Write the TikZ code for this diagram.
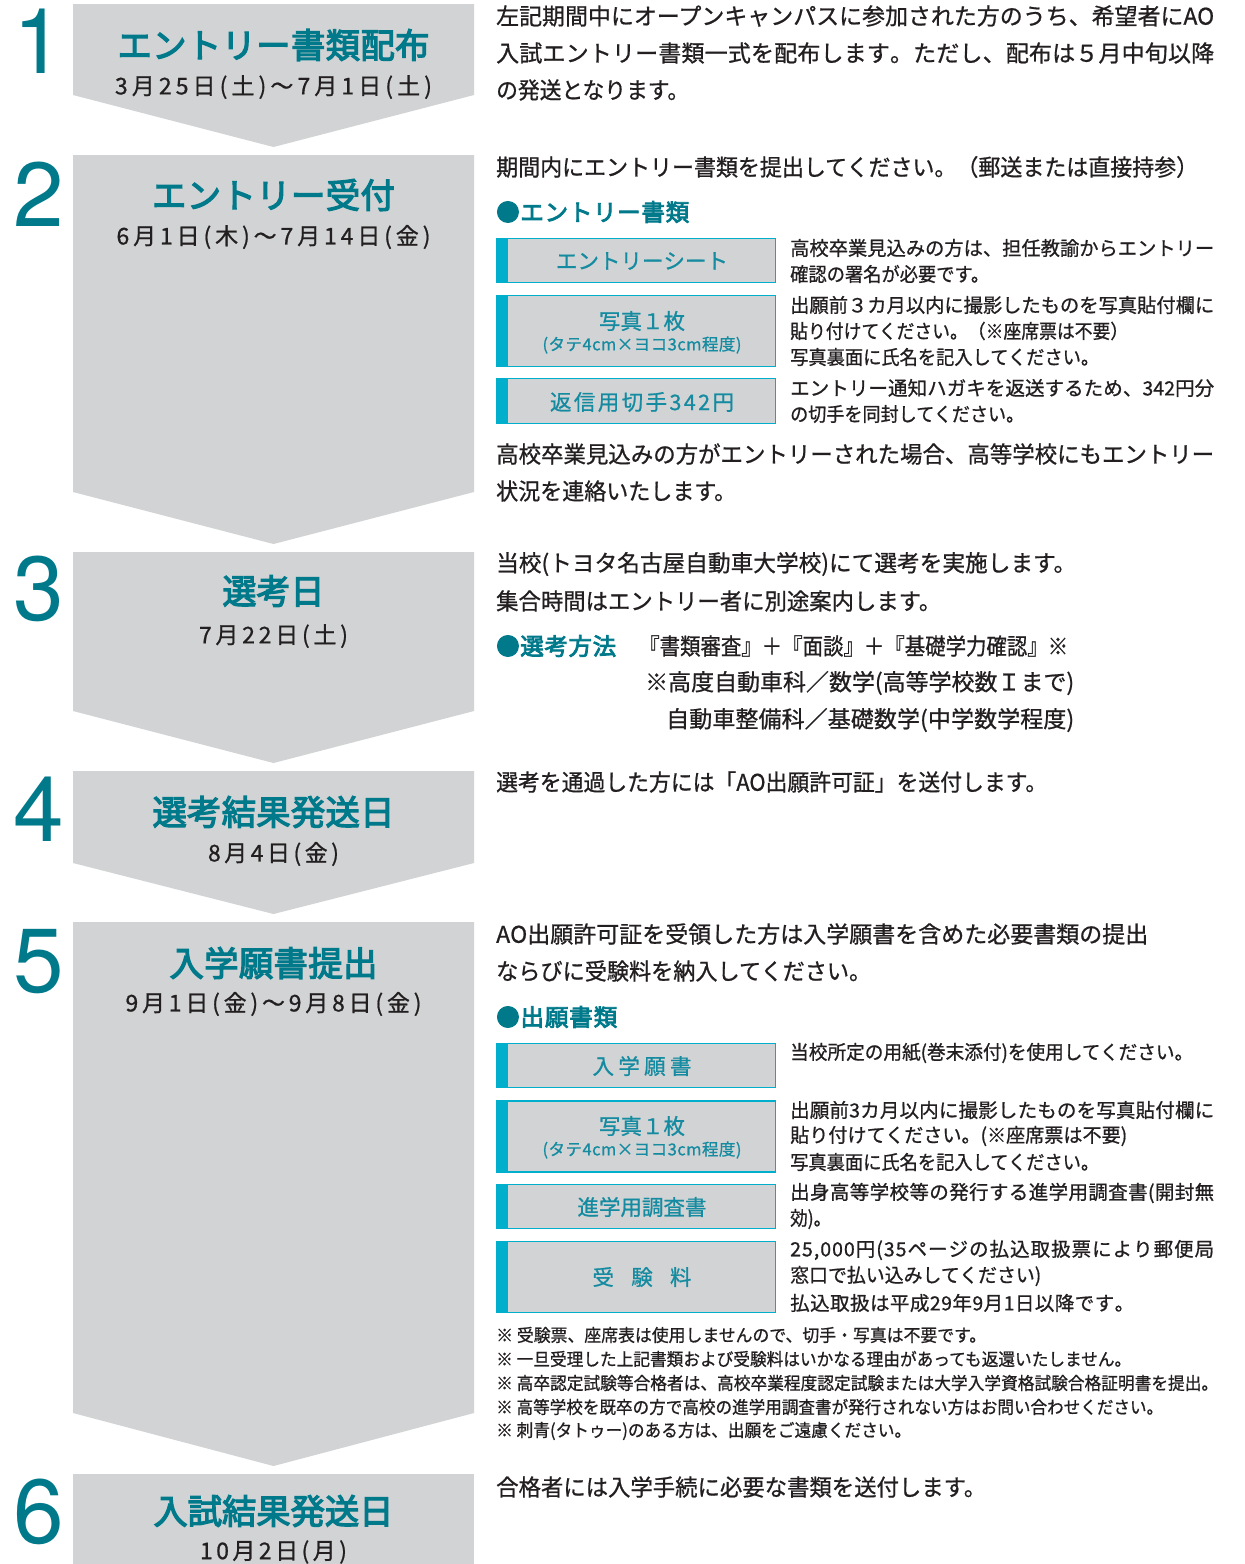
\documentclass[tikz,border=0pt]{standalone}
\usepackage{fontspec}
\usepackage{graphicx}
\setmainfont{Noto Sans CJK JP}
\newfontfamily\jp[FakeBold=0.8]{Noto Sans CJK JP}
\newfontfamily\jpm[FakeBold=3.5]{Noto Sans CJK JP}
\newfontfamily\numfont{TeX Gyre Heros}
\definecolor{gr}{HTML}{D1D3D4}
\definecolor{tl}{HTML}{00798B}
\definecolor{cy}{HTML}{00AFCB}
\definecolor{bt}{HTML}{148BA0}
\definecolor{ink}{HTML}{231F20}
\newcommand\fsz[1]{\fontsize{#1}{#1}\selectfont}
\newsavebox\fwbox
\def\trkA#1{#1\trkB}
\def\trkB#1{\ifx\relax#1\else\hfil#1\expandafter\trkB\fi}
\newcommand\fw[2]{%
  \sbox\fwbox{#2}%
  \ifdim\wd\fwbox>#1pt
    \edef\fwcur{\the\wd\fwbox}%
    \pgfmathsetmacro\fwr{#1/\fwcur}%
    \scalebox{\fwr}[1]{\usebox\fwbox}%
  \else
    \makebox[#1pt][s]{\trkA#2\relax}%
  \fi}
\tikzset{
  num/.style={font={\numfont\fsz{91}}, text=tl, inner sep=0pt},
  ttl/.style={font={\jpm\fsz{34.4}}, text=tl, inner sep=0pt},
  dte/.style={font={\jp\fsz{23}}, text=ink, inner sep=0pt},
  bd/.style={font={\jp\fsz{23}}, text=ink, inner sep=0pt, anchor=west},
  sm/.style={font={\jp\fsz{19.5}}, text=ink, inner sep=0pt, anchor=west},
  nt/.style={font={\jp\fsz{17.5}}, text=ink, inner sep=0pt, anchor=west},
  hd/.style={font={\jpm\fsz{23.5}}, text=tl, inner sep=0pt, anchor=west},
  cbox/.style={draw=cy, line width=1.5pt, fill=gr, minimum width=279pt, inner sep=0pt},
  blab/.style={font={\jp\fsz{21.5}}, text=bt, inner sep=0pt},
  blabs/.style={font={\jp\fsz{16.5}}, text=bt, inner sep=0pt},
  chev/.style={fill=gr}
}
\begin{document}
\begin{tikzpicture}[x=1pt,y=-1pt]
\useasboundingbox (0,0) rectangle (1245,1564);
\fill[white] (0,0) rectangle (1245,1564);
% chevrons
\fill[chev] (73,4) -- (474,4) -- (474,95) -- (273.5,147) -- (73,95) -- cycle;
\fill[chev] (73,155) -- (474,155) -- (474,492) -- (273.5,544) -- (73,492) -- cycle;
\fill[chev] (73,552) -- (474,552) -- (474,711) -- (273.5,763) -- (73,711) -- cycle;
\fill[chev] (73,771) -- (474,771) -- (474,863) -- (273.5,914) -- (73,863) -- cycle;
\fill[chev] (73,922) -- (474,922) -- (474,1413) -- (273.5,1466) -- (73,1413) -- cycle;
\fill[chev] (73,1474) rectangle (474,1564);
% numbers
\node[num] (n1) at (39,41) {1};
\node[num] (n2) at (39,194) {2};
\node[num] (n3) at (39,589) {3};
\node[num] (n4) at (39,809) {4};
\node[num] (n5) at (39,962) {5};
\node[num] (n6) at (39,1512) {6};
% titles and dates
\node[ttl] (t1) at (273.5,45) {\fw{312}{エントリー書類配布}};
\node[dte] (d1) at (273.5,87) {\fw{317}{3月25日(土)～7月1日(土)}};
\node[ttl] (t2) at (273.5,195) {\fw{243}{エントリー受付}};
\node[dte] (d2) at (273.5,237) {\fw{314}{6月1日(木)～7月14日(金)}};
\node[ttl] (t3) at (273.5,591) {\fw{102}{選考日}};
\node[dte] (d3) at (273.5,636) {\fw{149}{7月22日(土)}};
\node[ttl] (t4) at (273.5,812) {\fw{242}{選考結果発送日}};
\node[dte] (d4) at (273.5,854) {\fw{131}{8月4日(金)}};
\node[ttl] (t5) at (273.5,963) {\fw{208}{入学願書提出}};
\node[dte] (d5) at (273.5,1004) {\fw{296}{9月1日(金)～9月8日(金)}};
\node[ttl] (t6) at (273.5,1511) {\fw{240}{入試結果発送日}};
\node[dte] (d6) at (273.5,1552) {\fw{147}{10月2日(月)}};
% step 1 text
\node[bd] (s1a) at (496,16) {\fw{718}{左記期間中にオープンキャンパスに参加された方のうち、希望者にAO}};
\node[bd] (s1b) at (496,53) {\fw{718}{入試エントリー書類一式を配布します。ただし、配布は５月中旬以降}};
\node[bd] (s1c) at (496,90) {\fw{193}{の発送となります。}};
% step 2 text
\node[bd] (s2a) at (496,167) {\fw{702}{期間内にエントリー書類を提出してください。（郵送または直接持参）}};
\node[hd] (s2h) at (496,212) {\fw{193}{●エントリー書類}};
\node[cbox, minimum height=44pt] (b1) at (636,260.5) {};
\node[cbox, minimum height=71pt] (b2) at (636,331) {};
\node[cbox, minimum height=45pt] (b3) at (636,401) {};
\fill[cy] (b1.north west) rectangle ([xshift=12pt]b1.south west);
\fill[cy] (b2.north west) rectangle ([xshift=12pt]b2.south west);
\fill[cy] (b3.north west) rectangle ([xshift=12pt]b3.south west);
\node[blab] (l1) at (642,261) {\fw{172}{エントリーシート}};
\node[blab] (l2) at (642,321) {\fw{86}{写真１枚}};
\node[blabs] (l2s) at (642,345) {\fw{199}{(タテ4cm×ヨコ3cm程度)}};
\node[blab] (l3) at (642,402) {\fw{184}{返信用切手342円}};
\node[sm] (r2a) at (790,248) {\fw{424}{高校卒業見込みの方は、担任教諭からエントリー}};
\node[sm] (r2b) at (790,274) {\fw{199}{確認の署名が必要です。}};
\node[sm] (r2c) at (790,305) {\fw{424}{出願前３カ月以内に撮影したものを写真貼付欄に}};
\node[sm] (r2d) at (790,331) {\fw{338}{貼り付けてください。（※座席票は不要）}};
\node[sm] (r2e) at (790,357) {\fw{309}{写真裏面に氏名を記入してください。}};
\node[sm] (r2f) at (790,388) {\fw{424}{エントリー通知ハガキを返送するため、342円分}};
\node[sm] (r2g) at (790,414) {\fw{234}{の切手を同封してください。}};
\node[bd] (s2b) at (496,454) {\fw{718}{高校卒業見込みの方がエントリーされた場合、高等学校にもエントリー}};
\node[bd] (s2c) at (496,491) {\fw{240}{状況を連絡いたします。}};
% step 3 text
\node[bd] (s3a) at (496,564) {\fw{580}{当校(トヨタ名古屋自動車大学校)にて選考を実施します。}};
\node[bd] (s3b) at (496,601) {\fw{445}{集合時間はエントリー者に別途案内します。}};
\node[hd] (s3h) at (496,646) {\fw{120}{●選考方法}};
\node[bd] (s3c) at (639,646) {\fw{429}{『書類審査』＋『面談』＋『基礎学力確認』※}};
\node[bd] (s3d) at (645,683) {\fw{429}{※高度自動車科／数学(高等学校数Ｉまで)}};
\node[bd] (s3e) at (666,720) {\fw{408}{自動車整備科／基礎数学(中学数学程度)}};
% step 4 text
\node[bd] (s4a) at (496,782) {\fw{551}{選考を通過した方には「AO出願許可証」を送付します。}};
% step 5 text
\node[bd] (s5a) at (496,934) {\fw{652}{AO出願許可証を受領した方は入学願書を含めた必要書類の提出}};
\node[bd] (s5b) at (496,971) {\fw{375}{ならびに受験料を納入してください。}};
\node[hd] (s5h) at (496,1017) {\fw{121}{●出願書類}};
\node[cbox, minimum height=44pt] (bA) at (636,1065.5) {};
\node[cbox, minimum height=71pt] (bB) at (636,1136.5) {};
\node[cbox, minimum height=44pt] (bC) at (636,1206.5) {};
\node[cbox, minimum height=71pt] (bD) at (636,1277) {};
\fill[cy] (bA.north west) rectangle ([xshift=12pt]bA.south west);
\fill[cy] (bB.north west) rectangle ([xshift=12pt]bB.south west);
\fill[cy] (bC.north west) rectangle ([xshift=12pt]bC.south west);
\fill[cy] (bD.north west) rectangle ([xshift=12pt]bD.south west);
\node[blab] (lA) at (642,1066) {\fw{99}{入学願書}};
\node[blab] (lB) at (642,1126) {\fw{86}{写真１枚}};
\node[blabs] (lBs) at (642,1150) {\fw{199}{(タテ4cm×ヨコ3cm程度)}};
\node[blab] (lC) at (642,1207) {\fw{129}{進学用調査書}};
\node[blab] (lD) at (642,1277) {\fw{99}{受験料}};
\node[sm] (r5a) at (790,1053) {\fw{403}{当校所定の用紙(巻末添付)を使用してください。}};
\node[sm] (r5b) at (790,1110) {\fw{424}{出願前3カ月以内に撮影したものを写真貼付欄に}};
\node[sm] (r5c) at (790,1136) {\fw{337}{貼り付けてください。(※座席票は不要)}};
\node[sm] (r5d) at (790,1162) {\fw{309}{写真裏面に氏名を記入してください。}};
\node[sm] (r5e) at (790,1193) {\fw{424}{出身高等学校等の発行する進学用調査書(開封無}};
\node[sm] (r5f) at (790,1219) {\fw{41}{効)。}};
\node[sm] (r5g) at (790,1250) {\fw{424}{25,000円(35ページの払込取扱票により郵便局}};
\node[sm] (r5h) at (790,1276) {\fw{251}{窓口で払い込みしてください)}};
\node[sm] (r5i) at (790,1303) {\fw{344}{払込取扱は平成29年9月1日以降です。}};
\node[nt] (m1) at (496,1335) {\fw{490}{※{\kern4pt}受験票、座席表は使用しませんので、切手・写真は不要です。}};
\node[nt] (m2) at (496,1359) {\fw{635}{※{\kern4pt}一旦受理した上記書類および受験料はいかなる理由があっても返還いたしません。}};
\node[nt] (m3) at (496,1383) {\fw{722}{※{\kern4pt}高卒認定試験等合格者は、高校卒業程度認定試験または大学入学資格試験合格証明書を提出。}};
\node[nt] (m4) at (496,1407) {\fw{667}{※{\kern4pt}高等学校を既卒の方で高校の進学用調査書が発行されない方はお問い合わせください。}};
\node[nt] (m5) at (496,1431) {\fw{415}{※{\kern4pt}刺青(タトゥー)のある方は、出願をご遠慮ください。}};
% step 6 text
\node[bd] (s6a) at (496,1487) {\fw{490}{合格者には入学手続に必要な書類を送付します。}};
\end{tikzpicture}
\end{document}
